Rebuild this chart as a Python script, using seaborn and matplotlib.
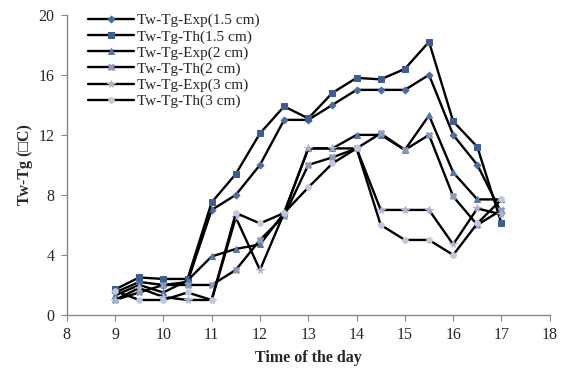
import matplotlib
matplotlib.use("Agg")
import matplotlib.pyplot as plt
import seaborn as sns
import pandas as pd

time = [9, 9.5, 10, 10.5, 11, 11.5, 12, 12.5, 13, 13.5, 14, 14.5, 15, 15.5, 16, 16.5, 17]

exp_15 = [1.5, 2.2, 2.0, 2.2, 7.0, 8.0, 10.0, 13.0, 13.0, 14.0, 15.0, 15.0, 15.0, 16.0, 12.0, 10.0, 6.8]
th_15 = [1.7, 2.5, 2.4, 2.4, 7.5, 9.4, 12.1, 13.9, 13.1, 14.8, 15.8, 15.7, 16.4, 18.2, 12.9, 11.2, 6.1]
exp_2 = [1.3, 2.0, 1.5, 2.3, 3.9, 4.4, 4.7, 6.8, 11.1, 11.1, 12.0, 12.0, 11.0, 13.3, 9.5, 7.7, 7.7]
th_2 = [1.0, 1.5, 2.0, 2.0, 2.0, 3.0, 5.0, 6.6, 10.0, 10.5, 11.1, 12.1, 11.0, 12.0, 7.9, 6.0, 7.0]
exp_3 = [1.0, 1.8, 1.2, 1.0, 1.0, 6.5, 3.0, 6.8, 11.1, 11.1, 11.1, 7.0, 7.0, 7.0, 4.7, 7.1, 6.7]
th_3 = [1.6, 1.0, 1.0, 1.5, 1.0, 6.8, 6.1, 6.8, 8.5, 10.1, 11.1, 6.0, 5.0, 5.0, 4.0, 6.1, 7.7]

series_names = ["Tw-Tg-Exp(1.5 cm)", "Tw-Tg-Th(1.5 cm)", "Tw-Tg-Exp(2 cm)",
                "Tw-Tg-Th(2 cm)", "Tw-Tg-Exp(3 cm)", "Tw-Tg-Th(3 cm)"]
series_values = [exp_15, th_15, exp_2, th_2, exp_3, th_3]

x_ticks = [8, 9, 10, 11, 12, 13, 14, 15, 16, 17, 18]
y_ticks = [0, 4, 8, 12, 16, 20]

markers = ["D", "s", "^", "X", "*", "o"]
msizes = [3.5, 5, 4.5, 4.5, 5.5, 4]
mcolors = ["#4a6d9e", "#3d5f8f", "#5577aa", "#8a9ab8", "#b0b4d4", "#c0c8dc"]

sns.set_style("white")
plt.rcParams["font.family"] = ["Liberation Serif", "DejaVu Sans"]

fig = plt.figure(figsize=(5.61, 3.71), dpi=100)
ax = fig.add_axes([0.119, 0.151, 0.861, 0.809])

for name, vals, mk, ms, mc in zip(series_names, series_values, markers, msizes, mcolors):
    df = pd.DataFrame({"t": time, "v": vals})
    sns.lineplot(data=df, x="t", y="v", ax=ax, color="black", linewidth=1.7,
                 marker=mk, markersize=ms, markerfacecolor=mc, markeredgecolor=mc,
                 label=name)

ax.set_xlim(8, 18)
ax.set_ylim(0, 20)
ax.set_xticks(x_ticks)
ax.set_yticks(y_ticks)
ax.tick_params(axis="both", labelsize=11.5, direction="out", length=4, color="#888888",
               bottom=True, left=True, pad=5)
for s in ["top", "right"]:
    ax.spines[s].set_visible(False)
for s in ["left", "bottom"]:
    ax.spines[s].set_color("#888888")
    ax.spines[s].set_linewidth(1.0)

ax.set_xlabel("Time of the day", fontsize=11.5, fontweight="bold", labelpad=5)
ax.set_ylabel("Tw-Tg (\u25a1C)", fontsize=11.5, fontweight="bold", labelpad=4)

leg = ax.legend(loc="upper left", bbox_to_anchor=(0.015, 1.05), frameon=False,
                fontsize=11, handlelength=3.0, handletextpad=0.2, labelspacing=0.15)

fig.savefig("out.png", dpi=100)
